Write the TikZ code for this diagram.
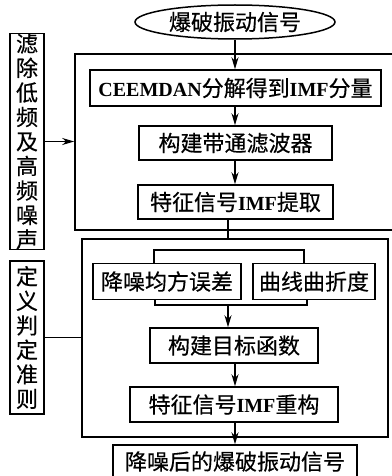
\documentclass[tikz,border=0pt]{standalone}
\usepackage{fontspec}
\setmainfont{Noto Sans CJK SC}[FakeBold=0.4]
\newfontfamily\enf{Liberation Serif}
\usetikzlibrary{arrows.meta,shapes.geometric}
\newcommand{\lat}[1]{{\enf\bfseries\fontsize{20}{22}\selectfont #1}}
\begin{document}
\begin{tikzpicture}[x=1pt,y=-1pt,
  box/.style={draw,line width=1.5pt,rectangle,inner sep=0pt,font=\fontsize{22}{24}\selectfont},
  frame/.style={draw,line width=1.6pt,rectangle,inner sep=0pt},
  vbox/.style={draw,line width=1.5pt,rectangle,inner sep=0pt,align=center,font=\fontsize{22}{24.5}\selectfont},
  arr/.style={line width=1.5pt,-{Stealth[length=12pt,width=7pt]}},
  ln/.style={line width=1.5pt}]
\useasboundingbox (0,0) rectangle (391,476);
% top signal
\node[draw,ellipse,line width=1.5pt,inner sep=0pt,minimum width=200pt,minimum height=34pt,font=\fontsize{22}{24}\selectfont] (sig) at (235,22) {爆破振动信号};
% outer frame 1
\node[frame,minimum width=318pt,minimum height=176pt] (o1) at (234,142) {};
\node[box,minimum width=291pt,minimum height=36pt] (ceem) at (235.5,88) {\lat{CEEMDAN}分解得到\lat{IMF}分量};
\node[box,minimum width=193pt,minimum height=34pt] (filt) at (235.5,143) {构建带通滤波器};
\node[box,minimum width=195pt,minimum height=34pt] (feat) at (235.5,202) {特征信号\lat{IMF}提取};
% left label 1
\node[vbox,minimum width=34pt,minimum height=211pt] (l1) at (27,141.5) {滤\\除\\低\\频\\及\\高\\频\\噪\\声};
% outer frame 2
\node[frame,minimum width=306pt,minimum height=198pt] (o2) at (235,338) {};
\node[box,minimum width=148pt,minimum height=36pt] (mse) at (167,281.5) {降噪均方误差};
\node[box,minimum width=122pt,minimum height=36pt] (curv) at (314,281.5) {曲线曲折度};
\node[box,minimum width=168pt,minimum height=35pt] (obj) at (234,345.5) {构建目标函数};
\node[box,minimum width=208pt,minimum height=35pt] (rec) at (234,404.5) {特征信号\lat{IMF}重构};
\node[box,minimum width=244pt,minimum height=33pt] (out) at (235,461.5) {降噪后的爆破振动信号};
% left label 2
\node[vbox,minimum width=34pt,minimum height=153pt] (l2) at (27,337.5) {定\\义\\判\\定\\准\\则};
% coordinates
\coordinate (bt1) at (154,250);
\coordinate (bt2) at (304,250);
\coordinate (bb1) at (155,305);
\coordinate (bb2) at (307,305);
\coordinate (bbm) at (228,305);
\coordinate (fx) at (228,0);
% connectors
\draw[arr] (sig) -- (ceem.north -| sig);
\draw[arr] (ceem.south -| sig) -- (filt.north -| sig);
\draw[arr] (filt.south -| sig) -- (feat.north -| sig);
\draw[arr] (l1.east) -- (l1.east -| o1.west);
\draw[ln] (feat.south -| fx) -- (o2.north -| fx);
\draw[ln] (l2.east) -- (l2.east -| o2.west);
\draw[ln] (mse.north -| bt1) -- (bt1) -- (bt2) -- (curv.north -| bt2);
\draw[ln] (mse.south -| bb1) -- (bb1) -- (bb2) -- (curv.south -| bb2);
\draw[arr] (bbm) -- (obj.north -| bbm);
\draw[arr] (obj.south -| sig) -- (rec.north -| sig);
\draw[arr] (rec.south -| sig) -- (out.north -| sig);
\end{tikzpicture}
\end{document}
